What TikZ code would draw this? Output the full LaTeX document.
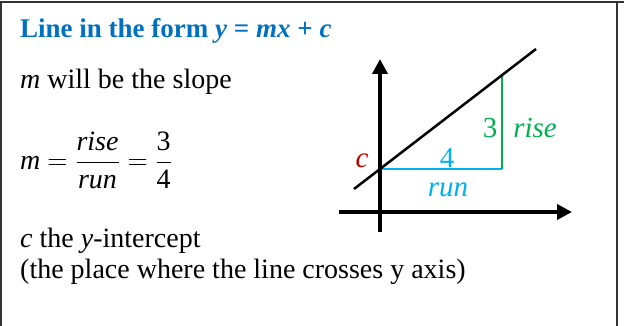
\RequirePackage{fix-cm}
\documentclass[tikz,border=0pt]{standalone}
\usepackage{amsmath}
\usepackage{fontspec}
\setmainfont{Liberation Serif}
\usepackage{tikz}
\usetikzlibrary{arrows.meta,positioning}
\definecolor{headblue}{RGB}{0,112,192}
\definecolor{runblue}{RGB}{0,176,240}
\definecolor{risegreen}{RGB}{0,176,80}
\definecolor{cred}{RGB}{192,0,0}

\begin{document}
\begin{tikzpicture}[x=1pt,y=-1pt,
  txt/.style={anchor=base west,inner sep=0pt,font=\fontsize{28}{33}\selectfont},
  lbl/.style={inner sep=0pt,font=\fontsize{29}{33}\selectfont},
  axis/.style={line width=4pt,-{Triangle[length=15pt,width=15pt]}}]
\useasboundingbox (0,0) rectangle (624,326);
% frame
\draw[line width=1.5pt,black!80] (0.75,326) -- (0.75,2) -- (624,2);
\draw[line width=1.5pt,black!80] (617,2) -- (617,326);
% text
\node[txt,headblue,font=\fontsize{27}{33}\selectfont\bfseries] (head) at (20,38)
  {Line in the form \textit{y} = \textit{mx} + \textit{c}};
\node[txt] (slope) at (20,89) {\textit{m} will be the slope};
\node[txt] (frac) at (20,169)
  {\textit{m} $=\dfrac{\textit{rise}}{\textit{run}}=\dfrac{\textrm{3}}{\textrm{4}}$};
\node[txt] (icpt) at (20,247) {\textit{c} the \textit{y}-intercept};
\node[txt] (place) at (20,278) {(the place where the line crosses y axis)};
% graph
\coordinate (xs) at (339,212);
\coordinate (xe) at (572,212);
\coordinate (ys) at (380,232);
\coordinate (ye) at (380,59);
\coordinate (ls) at (354,189);
\coordinate (le) at (536,49);
\coordinate (c0) at (380,169);
\coordinate (c1) at (502,169);
\coordinate (c2) at (502,76);
\draw[axis] (xs) -- (xe);
\draw[axis] (ys) -- (ye);
\draw[runblue,line width=1.5pt] (c0) -- (c1);
\draw[risegreen,line width=1.5pt] (c1) -- (c2);
\draw[line width=2.5pt] (ls) -- (le);
\node[lbl,cred] (cl) at (362,161) {\textit{c}};
\node[lbl,runblue] (four) at (447,158) {4};
\node[lbl,runblue] (runl) at (448,190) {\textit{run}};
\node[lbl,risegreen] (three) at (490,128) {3};
\node[lbl,risegreen] (risel) at (535,128) {\textit{rise}};
\end{tikzpicture}
\end{document}
